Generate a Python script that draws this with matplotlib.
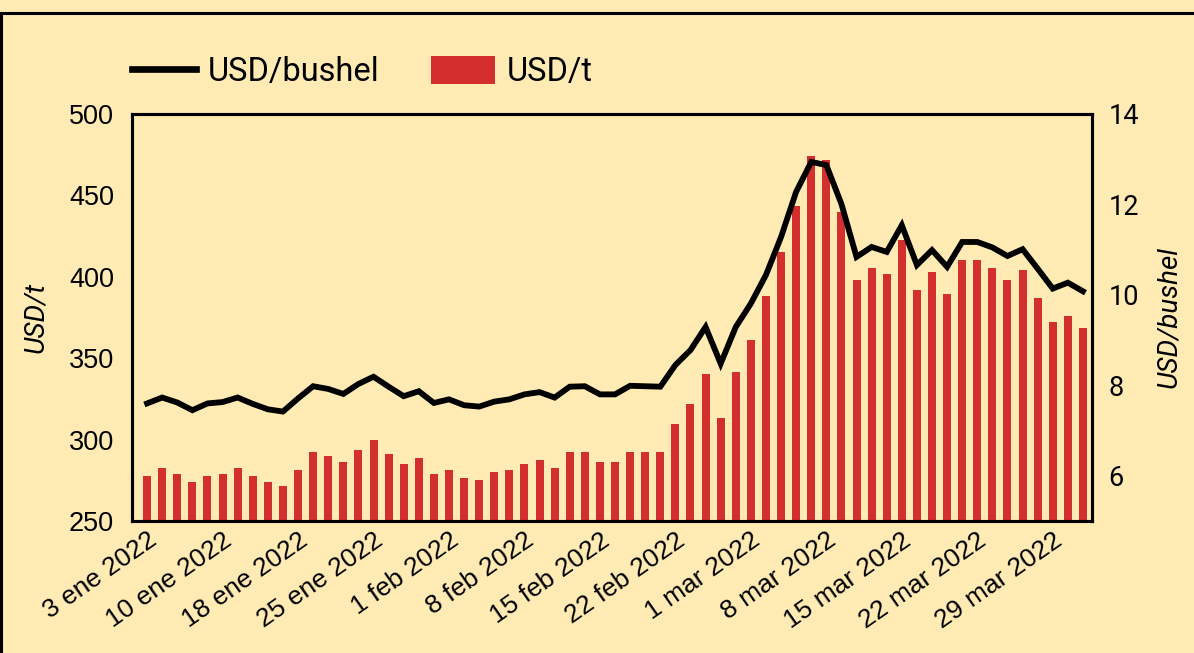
import matplotlib
matplotlib.use("Agg")
import matplotlib.pyplot as plt
from matplotlib.lines import Line2D
from matplotlib.patches import Patch
import numpy as np

# ---- data ----
dates = ["3 ene", "4 ene", "5 ene", "6 ene", "7 ene",
         "10 ene", "11 ene", "12 ene", "13 ene", "14 ene",
         "18 ene", "19 ene", "20 ene", "21 ene", "24 ene",
         "25 ene", "26 ene", "27 ene", "28 ene", "31 ene",
         "1 feb", "2 feb", "3 feb", "4 feb", "7 feb",
         "8 feb", "9 feb", "10 feb", "11 feb", "14 feb",
         "15 feb", "16 feb", "17 feb", "18 feb", "21 feb",
         "22 feb", "23 feb", "24 feb", "25 feb", "28 feb",
         "1 mar", "2 mar", "3 mar", "4 mar", "7 mar",
         "8 mar", "9 mar", "10 mar", "11 mar", "14 mar",
         "15 mar", "16 mar", "17 mar", "18 mar", "21 mar",
         "22 mar", "23 mar", "24 mar", "25 mar", "28 mar",
         "29 mar", "30 mar", "31 mar"]

usd_t = [277.6, 282.6, 278.9, 274.0, 277.6, 279.0, 282.6, 277.6, 274.0, 271.5,
         281.3, 292.4, 290.0, 286.3, 293.6, 299.8, 291.2, 285.0, 288.7, 279.0,
         281.3, 276.4, 275.2, 280.0, 281.3, 285.0, 287.5, 282.6, 292.4, 292.4,
         286.3, 286.3, 292.4, 292.4, 292.4, 309.6, 321.9, 340.3, 313.3, 341.5,
         361.2, 388.2, 415.2, 443.5, 474.2, 471.7, 439.8, 398.0, 405.4, 401.7,
         422.6, 391.9, 402.9, 389.4, 410.3, 410.3, 405.4, 398.0, 404.2, 387.0,
         372.2, 375.9, 368.5]

usd_bushel = [7.60, 7.73, 7.62, 7.45, 7.60, 7.63, 7.73, 7.59, 7.47, 7.42,
              7.71, 7.98, 7.92, 7.81, 8.03, 8.19, 7.97, 7.76, 7.87, 7.61,
              7.69, 7.56, 7.53, 7.64, 7.69, 7.80, 7.85, 7.73, 7.97, 7.98,
              7.80, 7.80, 7.99, 7.98, 7.97, 8.45, 8.78, 9.29, 8.48, 9.29,
              9.81, 10.44, 11.28, 12.28, 12.94, 12.87, 12.01, 10.84, 11.06, 10.95,
              11.54, 10.66, 10.99, 10.62, 11.17, 11.17, 11.05, 10.86, 11.01, 10.58,
              10.14, 10.27, 10.08]

tick_every = 5
left_ticks = [250, 300, 350, 400, 450, 500]
right_ticks = [6, 8, 10, 12, 14]

# ---- style ----
BG = "#FFEBB3"
RED = "#D32F2F"

fig = plt.figure(figsize=(11.94, 6.53), dpi=100, facecolor=BG)
ax = fig.add_axes([132/1194, 1 - 521/653, (1092 - 132)/1194, (521 - 114)/653])
ax.set_facecolor(BG)
x = np.arange(len(dates))
ax.bar(x, usd_t, width=0.53, color=RED, zorder=2)
ax.set_ylim(250, 500)
ax.set_yticks(left_ticks)
ax.set_xlim(-1, 62.6)

ax2 = ax.twinx()
ax2.plot(x, usd_bushel, color="black", lw=4.2, solid_joinstyle="miter", zorder=3)
ax2.set_ylim(5, 14)
ax2.set_yticks(right_ticks)

for a in (ax, ax2):
    for s in a.spines.values():
        s.set_linewidth(2.2)
        s.set_color("black")
    a.tick_params(length=0)

ax.set_xticks(x[::tick_every])
ax.set_xticklabels([d + " 2022" for d in dates[::tick_every]], rotation=35,
                   ha="right", va="top", rotation_mode="anchor",
                   fontfamily="Liberation Sans", fontsize=19)
ax.tick_params(axis="x", pad=5)
ax.tick_params(axis="y", pad=13, labelsize=19.5)
for t in ax.get_yticklabels():
    t.set_fontfamily("Liberation Sans")
ax2.tick_params(axis="y", pad=12, labelsize=19.5)
for t in ax2.get_yticklabels():
    t.set_fontfamily("Roboto")

ax.set_ylabel("USD/t", fontfamily="Roboto", fontstyle="italic", fontsize=20, labelpad=14)
ax2.set_ylabel("USD/bushel", fontfamily="Roboto", fontstyle="italic", fontsize=20, labelpad=12)

handles = [Line2D([0], [0], color="black", lw=4.8),
           Patch(facecolor=RED)]
fig.legend(handles, ["USD/bushel", "USD/t"], loc="center left",
           bbox_to_anchor=(132/1194, 1 - 72/653), ncol=2, frameon=False,
           borderpad=0, borderaxespad=0,
           prop={"family": "Roboto", "size": 23.5}, handlelength=1.95,
           handleheight=0.98, columnspacing=1.6, handletextpad=0.36)

# outer frame (top and left edges visible)
fig.add_artist(Line2D([0, 1], [1 - 13/653, 1 - 13/653], transform=fig.transFigure,
                      color="black", lw=2.2))
fig.add_artist(Line2D([1/1194, 1/1194], [0, 1 - 13/653], transform=fig.transFigure,
                      color="black", lw=2.2))

fig.savefig("out.png", dpi=100, facecolor=BG)
